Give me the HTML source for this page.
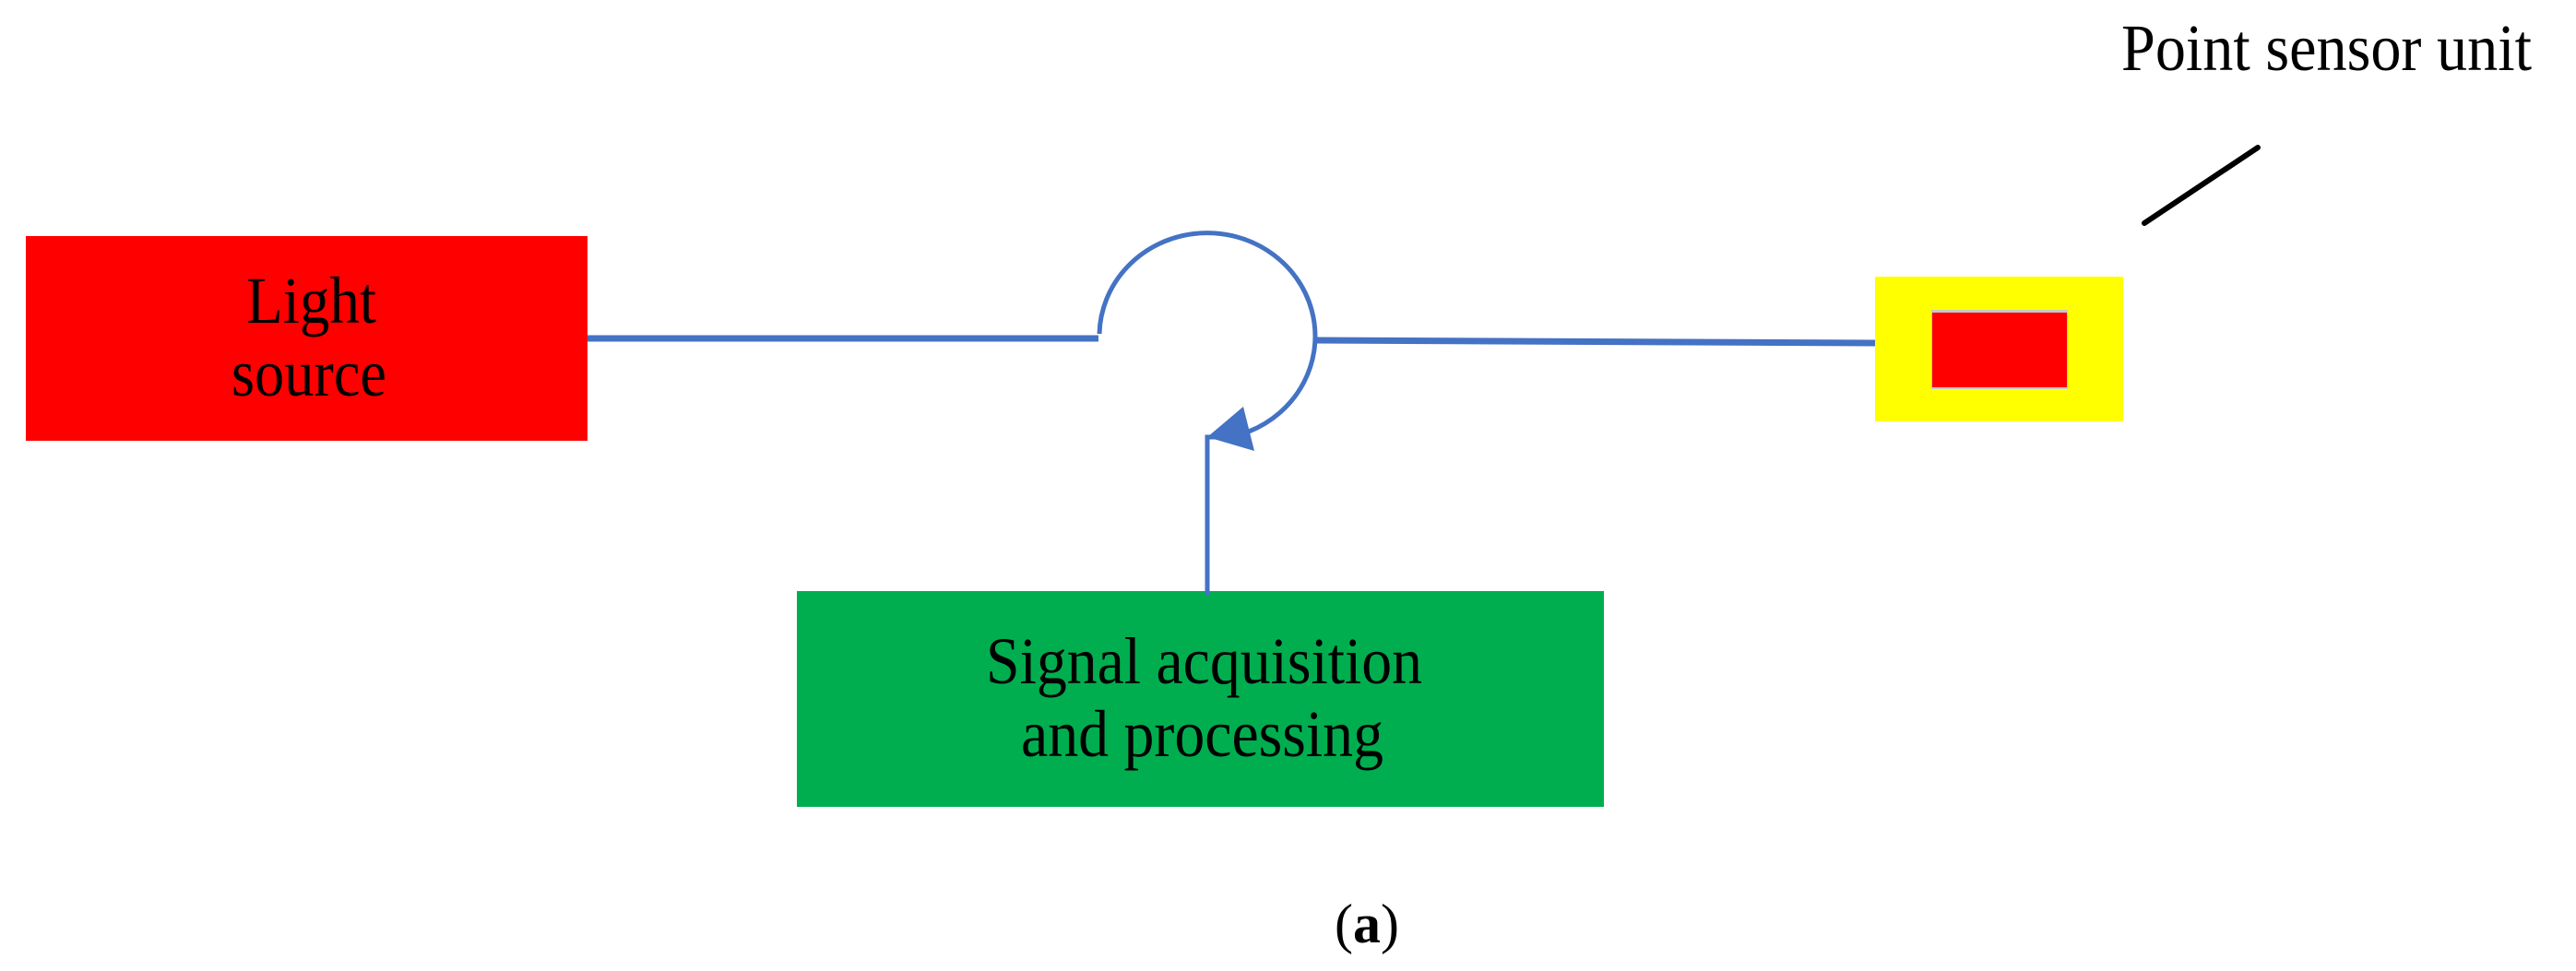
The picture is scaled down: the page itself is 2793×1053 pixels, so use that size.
<!DOCTYPE html>
<html><head><style>html,body{margin:0;padding:0;background:#fff;}svg{display:block}</style></head>
<body>
<svg width="2793" height="1053" viewBox="0 0 2793 1053" xmlns="http://www.w3.org/2000/svg" font-family="Liberation Serif, serif">
<rect x="28" y="256" width="609" height="222" fill="#ff0000"/>
<rect x="864" y="641" width="875" height="234" fill="#00ae4f"/>
<rect x="2033" y="300" width="269" height="157" fill="#ffff00"/>
<rect x="2094" y="336" width="148" height="86" fill="#c8c8c8"/>
<rect x="2095" y="339" width="146" height="81" fill="#ff0000"/>
<g stroke="#4472c4" fill="none">
<line x1="637" y1="367" x2="1191" y2="367" stroke-width="7"/>
<line x1="1426" y1="369" x2="2033" y2="372" stroke-width="7"/>
<path d="M1192 362 A117 112 0 1 1 1354 468" stroke-width="5"/>
<path d="M1309 646 L1309 474 L1318 474" stroke-width="5"/>
</g>
<polygon points="1348,441 1360,489 1309,474" fill="#4472c4"/>
<line x1="2325" y1="242" x2="2448" y2="160" stroke="#000" stroke-width="6" stroke-linecap="round"/>
<g font-size="72" fill="#000">
<text x="267" y="350" textLength="141" lengthAdjust="spacingAndGlyphs">Light</text>
<text x="251" y="429" textLength="168" lengthAdjust="spacingAndGlyphs">source</text>
<text x="1069" y="741" textLength="473" lengthAdjust="spacingAndGlyphs">Signal acquisition</text>
<text x="1107" y="820" textLength="393" lengthAdjust="spacingAndGlyphs">and processing</text>
<text x="2300" y="76" textLength="445" lengthAdjust="spacingAndGlyphs">Point sensor unit</text>
</g>
<text x="1482" y="1022" font-size="60" text-anchor="middle" fill="#000">(<tspan font-weight="bold">a</tspan>)</text>
</svg>
</body></html>
